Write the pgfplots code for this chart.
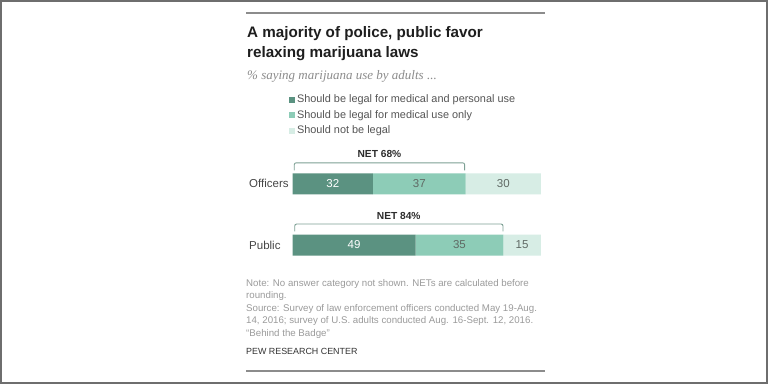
\documentclass[border=0pt]{standalone}
\usepackage{pgfplots}
\pgfplotsset{compat=1.18}
\usepackage{fontspec}
\setmainfont{Liberation Sans}
\newfontfamily\serifit{Liberation Serif}
\definecolor{cA}{RGB}{91,146,129}
\definecolor{cB}{RGB}{141,204,183}
\definecolor{cC}{RGB}{215,237,229}
\definecolor{framec}{RGB}{110,110,110}
\definecolor{rulec}{RGB}{140,140,140}
\definecolor{titlec}{RGB}{30,30,30}
\definecolor{subc}{RGB}{140,140,140}
\definecolor{legtext}{RGB}{85,85,85}
\definecolor{labc}{RGB}{70,70,70}
\definecolor{valc}{RGB}{95,105,100}
\definecolor{brc}{RGB}{125,160,148}
\definecolor{netc}{RGB}{45,45,45}
\definecolor{notec}{RGB}{155,155,155}
\definecolor{pewc}{RGB}{50,50,50}
\begin{document}
\begin{tikzpicture}[x=1pt,y=1pt]
\fill[white] (0,0) rectangle (768,384);
\draw[framec, line width=2pt] (1,1) rectangle (767,383);
\draw[rulec, line width=1.5pt] (246,371) -- (545,371);
\draw[rulec, line width=1.5pt] (246,13) -- (545,13);
\node[anchor=base west, inner sep=0pt, text=titlec, font=\fontsize{15.2}{18}\selectfont\bfseries] at (247,346.5) {A majority of police, public favor};
\node[anchor=base west, inner sep=0pt, text=titlec, font=\fontsize{15.2}{18}\selectfont\bfseries] at (247,327) {relaxing marijuana laws};
\node[anchor=base west, inner sep=0pt, text=subc, font=\serifit\itshape\fontsize{13}{15}\selectfont] at (247,305) {\% saying marijuana use by adults ...};
\begin{axis}[
  at={(416.8pt,169.6pt)}, anchor=center,
  scale only axis, width=248.2pt, height=122.4pt,
  xmin=0, xmax=99, ymin=-0.5, ymax=1.5,
  xbar stacked, bar width=21pt,
  axis line style={draw=none}, major tick length=0pt,
  xtick=\empty, ytick={0,1}, yticklabels={Public,Officers},
  yticklabel style={anchor=west, inner sep=0pt, xshift=-43.7pt, font=\fontsize{11.5}{13}\selectfont, text=labc},
  clip=false,
  legend cell align=left,
  legend image code/.code={\fill[#1] (0pt,-3pt) rectangle (6pt,3pt);},
  legend style={at={(-0.0149,1.4776)}, anchor=north west, draw=none, fill=none,
    inner sep=0pt, outer sep=0pt, row sep=5pt, column sep=2pt,
    font=\fontsize{10.9}{12}\selectfont,
    nodes={inner sep=0pt, text height=8pt, text depth=2.5pt, text=legtext}},
]
\addplot[fill=cA, draw=none] coordinates {(32,1) (49,0)};
\addplot[fill=cB, draw=none] coordinates {(37,1) (35,0)};
\addplot[fill=cC, draw=none] coordinates {(30,1) (15,0)};
\legend{Should be legal for medical and personal use, Should be legal for medical use only, Should not be legal}
\coordinate (v1) at (axis cs:16,1);
\coordinate (v2) at (axis cs:50.5,1);
\coordinate (v3) at (axis cs:84,1);
\coordinate (v4) at (axis cs:24.5,0);
\coordinate (v5) at (axis cs:66.5,0);
\coordinate (v6) at (axis cs:91.5,0);
\draw[brc, line width=0.9pt, rounded corners=2pt] (axis cs:0.6,1.221) -- (axis cs:0.6,1.343) -- (axis cs:68.6,1.343) -- (axis cs:68.6,1.221);
\draw[brc, line width=0.9pt, rounded corners=2pt] (axis cs:0.8,0.221) -- (axis cs:0.8,0.343) -- (axis cs:83.9,0.343) -- (axis cs:83.9,0.221);
\node[font=\fontsize{10.2}{12}\selectfont\bfseries, text=netc] at (axis cs:34.6,1.482) {NET 68\%};
\node[font=\fontsize{10.2}{12}\selectfont\bfseries, text=netc] at (axis cs:42.3,0.482) {NET 84\%};
\end{axis}
\begin{scope}[every node/.style={font=\fontsize{11.5}{13}\selectfont}]
\node[text=white] at (v1) {32};
\node[text=valc] at (v2) {37};
\node[text=valc] at (v3) {30};
\node[text=white] at (v4) {49};
\node[text=valc] at (v5) {35};
\node[text=valc] at (v6) {15};
\end{scope}
\begin{scope}[every node/.style={anchor=base west, inner sep=0pt, text=notec, font=\fontsize{9.7}{11}\selectfont}]
\node at (246,98) {Note: No answer category not shown. NETs are calculated before};
\node at (246,85.5) {rounding.};
\node at (246,73) {Source: Survey of law enforcement officers conducted May 19-Aug.};
\node at (246,60.5) {14, 2016; survey of U.S. adults conducted Aug. 16-Sept. 12, 2016.};
\node at (246,48) {“Behind the Badge”};
\end{scope}
\node[anchor=base west, inner sep=0pt, text=pewc, font=\fontsize{8.9}{10}\selectfont] at (246,29.5) {PEW RESEARCH CENTER};
\end{tikzpicture}
\end{document}
